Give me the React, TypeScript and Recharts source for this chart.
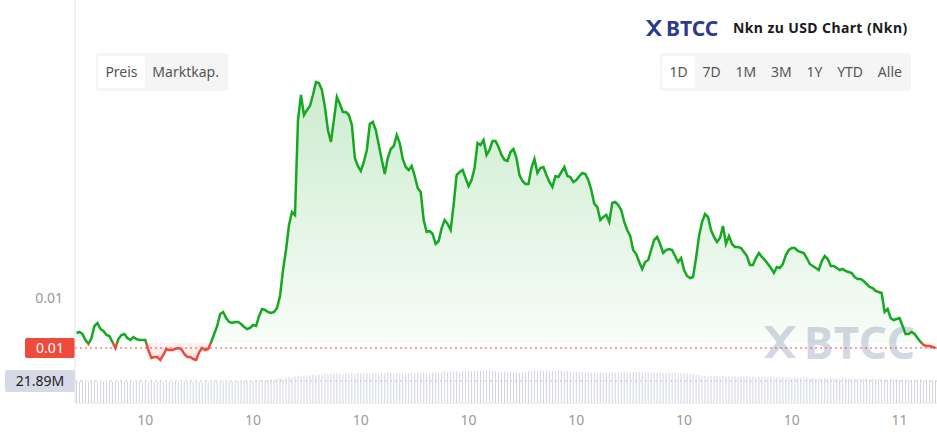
import { ComposedChart, Area, Bar, XAxis, YAxis, ReferenceLine } from 'recharts';

// 5-minute candles, day 10 01:05 -> day 11 01:00
const startDay = 10;
const startMinute = 65;
const stepMinutes = 5;

// NKN/USD close price
const prices = [
  0.01015, 0.01016, 0.01014, 0.01008, 0.01004, 0.01010, 0.01022, 0.01025, 0.01019, 0.01017, 0.01013, 0.01012,
  0.01006, 0.01000, 0.01009, 0.01013, 0.01014, 0.01010, 0.01008, 0.01011, 0.01009, 0.01008, 0.01008, 0.01008,
  0.00998, 0.00990, 0.00991, 0.00991, 0.00988, 0.00993, 0.00999, 0.00998, 0.00998, 0.00999, 0.01000, 0.00999,
  0.00994, 0.00991, 0.00991, 0.00989, 0.00988, 0.00996, 0.01000, 0.00998, 0.00999, 0.01006, 0.01014, 0.01022,
  0.01034, 0.01036, 0.01030, 0.01026, 0.01025, 0.01026, 0.01026, 0.01024, 0.01021, 0.01019, 0.01020, 0.01023,
  0.01022, 0.01032, 0.01039, 0.01038, 0.01036, 0.01035, 0.01036, 0.01040, 0.01052, 0.01078, 0.01098, 0.01123,
  0.01136, 0.01133, 0.01228, 0.01253, 0.01233, 0.01238, 0.01242, 0.01253, 0.01266, 0.01265, 0.01258, 0.01241,
  0.01218, 0.01206, 0.01228, 0.01251, 0.01244, 0.01236, 0.01236, 0.01233, 0.01223, 0.01190, 0.01182, 0.01177,
  0.01186, 0.01198, 0.01224, 0.01226, 0.01218, 0.01203, 0.01188, 0.01174, 0.01190, 0.01199, 0.01202, 0.01213,
  0.01205, 0.01189, 0.01181, 0.01178, 0.01182, 0.01172, 0.01160, 0.01156, 0.01128, 0.01116, 0.01117, 0.01114,
  0.01104, 0.01107, 0.01120, 0.01128, 0.01124, 0.01118, 0.01143, 0.01173, 0.01176, 0.01178, 0.01170, 0.01162,
  0.01168, 0.01180, 0.01205, 0.01203, 0.01208, 0.01193, 0.01198, 0.01207, 0.01207, 0.01201, 0.01193, 0.01188,
  0.01187, 0.01196, 0.01199, 0.01190, 0.01173, 0.01167, 0.01164, 0.01164, 0.01180, 0.01189, 0.01175, 0.01180,
  0.01181, 0.01173, 0.01166, 0.01161, 0.01172, 0.01171, 0.01176, 0.01181, 0.01172, 0.01171, 0.01166, 0.01168,
  0.01172, 0.01175, 0.01174, 0.01168, 0.01158, 0.01144, 0.01141, 0.01128, 0.01131, 0.01133, 0.01126, 0.01145,
  0.01146, 0.01143, 0.01138, 0.01126, 0.01118, 0.01112, 0.01098, 0.01094, 0.01086, 0.01079, 0.01086, 0.01088,
  0.01098, 0.01108, 0.01111, 0.01104, 0.01095, 0.01098, 0.01099, 0.01098, 0.01092, 0.01086, 0.01090, 0.01078,
  0.01072, 0.01070, 0.01071, 0.01090, 0.01112, 0.01126, 0.01134, 0.01131, 0.01118, 0.01111, 0.01106, 0.01110,
  0.01122, 0.01104, 0.01112, 0.01104, 0.01101, 0.01101, 0.01100, 0.01096, 0.01092, 0.01083, 0.01083, 0.01090,
  0.01095, 0.01091, 0.01088, 0.01084, 0.01080, 0.01075, 0.01081, 0.01080, 0.01084, 0.01093, 0.01098, 0.01100,
  0.01100, 0.01097, 0.01096, 0.01095, 0.01090, 0.01084, 0.01082, 0.01080, 0.01078, 0.01087, 0.01092, 0.01089,
  0.01082, 0.01082, 0.01080, 0.01078, 0.01079, 0.01077, 0.01076, 0.01075, 0.01071, 0.01069, 0.01069, 0.01067,
  0.01064, 0.01061, 0.01060, 0.01057, 0.01056, 0.01055, 0.01036, 0.01039, 0.01030, 0.01028, 0.01029, 0.01030,
  0.01022, 0.01014, 0.01014, 0.01016, 0.01014, 0.01010, 0.01006, 0.01003, 0.01002, 0.01002, 0.01001, 0.01000,
];

// volume, millions
const volumes = [
  21.4, 20.8, 22.1, 21.0, 20.6, 21.8, 22.3, 21.2, 20.9, 21.5, 20.7, 21.9,
  21.1, 20.5, 21.6, 22.0, 20.8, 21.3, 21.7, 20.9, 21.2, 22.2, 20.6, 21.4,
  21.0, 21.8, 20.7, 21.3, 22.1, 20.9, 21.5, 21.1, 20.8, 21.9, 21.2, 20.6,
  21.7, 21.0, 22.0, 20.9, 21.4, 21.1, 20.7, 21.8, 21.3, 21.0, 22.2, 21.5,
  20.9, 21.6, 21.2, 22.0, 21.4, 20.8, 21.9, 21.3, 22.1, 21.7, 22.4, 21.9,
  22.6, 22.2, 23.0, 22.5, 23.3, 23.8, 23.2, 24.1, 24.6, 24.2, 25.3, 25.8,
  25.4, 26.3, 26.9, 26.5, 27.4, 27.0, 27.8, 28.3, 27.9, 28.6, 28.2, 29.0,
  28.5, 29.3, 28.8, 29.6, 29.1, 28.7, 29.5, 29.2, 29.8, 29.0, 29.6, 30.1,
  29.4, 29.9, 29.3, 30.2, 29.7, 29.2, 30.0, 29.5, 30.3, 29.8, 29.4, 30.1,
  29.6, 30.0, 29.3, 29.9, 30.4, 29.7, 30.2, 29.8, 30.5, 30.0, 29.6, 30.3,
  30.8, 30.2, 30.9, 31.3, 30.7, 31.5, 31.0, 31.7, 31.2, 31.9, 31.4, 32.0,
  31.6, 32.2, 31.8, 32.4, 31.9, 32.1, 31.5, 32.3, 31.7, 31.0, 30.6, 31.2,
  30.4, 30.9, 30.2, 30.7, 30.1, 30.6, 31.1, 31.8, 31.4, 32.2, 31.7, 32.4,
  32.0, 32.5, 31.8, 32.3, 31.9, 32.6, 32.1, 31.6, 32.2, 31.3, 30.8, 31.2,
  30.5, 30.9, 30.3, 30.7, 30.1, 30.6, 30.0, 30.4, 29.8, 30.3, 29.9, 30.5,
  30.1, 30.8, 30.4, 31.0, 30.6, 30.2, 30.9, 30.5, 31.1, 30.7, 30.3, 30.8,
  30.2, 30.6, 29.9, 30.4, 30.0, 29.6, 30.1, 29.7, 30.3, 29.8, 29.4, 29.9,
  29.5, 29.1, 28.6, 28.2, 27.8, 27.4, 27.0, 26.7, 27.1, 26.5, 26.9, 26.3,
  26.7, 26.2, 26.6, 26.0, 26.4, 25.9, 26.3, 25.8, 26.2, 25.7, 26.1, 25.6,
  26.0, 25.5, 25.9, 25.4, 25.8, 25.3, 25.7, 25.2, 25.6, 25.1, 25.5, 25.0,
  25.4, 24.9, 25.3, 24.8, 25.2, 24.7, 25.1, 24.6, 25.0, 24.5, 24.9, 24.4,
  24.8, 24.3, 24.7, 24.2, 24.6, 24.1, 24.5, 24.0, 24.4, 23.9, 24.3, 23.8,
  24.2, 23.7, 24.1, 23.6, 24.0, 23.5, 23.9, 23.4, 23.8, 23.3, 23.7, 23.2,
  23.6, 23.1, 23.5, 23.0, 23.4, 22.9, 23.3, 22.8, 23.2, 22.6, 22.3, 21.89,
];

const tickTimes = ['10 03:00', '10 06:00', '10 09:00', '10 12:00', '10 15:00', '10 18:00', '10 21:00', '11 00:00'];
const tickLabels = ['10', '10', '10', '10', '10', '10', '10', '11'];
const priceTicks = [0.0105];

const basePrice = 0.01005;
const lastPrice = 0.01;
const lastVolume = 21.89;

const rangeButtons = ['1D', '7D', '1M', '3M', '1Y', 'YTD', 'Alle'];
const modeButtons = ['Preis', 'Marktkap.'];

const GREEN = '#15a821';
const RED = '#ef4a3c';

const pad = (n: number) => String(n).padStart(2, '0');

const data = prices.map((price, i) => {
  const m = startMinute + i * stepMinutes;
  const day = startDay + Math.floor(m / 1440);
  const mm = m % 1440;
  return { t: `${day} ${pad(Math.floor(mm / 60))}:${pad(mm % 60)}`, price, vol: volumes[i] };
});

const maxP = Math.max(...prices);
const minP = Math.min(...prices);
const splitOffset = (maxP - basePrice) / (maxP - minP);

const PriceBadge = (props: any) => {
  const { x, y } = props.viewBox;
  return (
    <g>
      <rect x={x - 50} y={y - 10} width={50} height={20} rx={2} fill={RED} />
      <text x={x - 25} y={y} dy="0.35em" textAnchor="middle" fill="#fff" fontSize={14}>
        {props.text}
      </text>
    </g>
  );
};

const VolumeBadge = (props: any) => {
  const { x, y } = props.viewBox;
  return (
    <g>
      <rect x={x - 70} y={y - 11} width={70} height={22} rx={2} fill="#d5dae6" />
      <text x={x - 35} y={y} dy="0.35em" textAnchor="middle" fill="#222" fontSize={14}>
        {props.text}
      </text>
    </g>
  );
};

const Logo = ({ size, color }: { size: number; color: string }) => (
  <svg width={size} height={size} viewBox="0 0 18 18">
    <polygon points="1,1 5,1 9,6 13,1 17,1 9,11" fill={color} />
    <polygon points="1,17 5,17 9,12 13,17 17,17 9,7" fill={color} />
  </svg>
);

const ButtonGroup = ({ items, left, top }: { items: string[]; left: number; top: number }) => (
  <div
    style={{
      position: 'absolute',
      left,
      top,
      height: 38,
      boxSizing: 'border-box',
      padding: '3px 2px',
      background: '#f5f5f5',
      borderRadius: 4,
      display: 'flex',
    }}
  >
    {items.map((label, i) => (
      <div
        key={label}
        style={{
          height: 32,
          lineHeight: '32px',
          padding: '0 7.4px',
          fontSize: 14,
          color: '#555',
          background: i === 0 ? '#fff' : 'transparent',
          borderRadius: 3,
        }}
      >
        {label}
      </div>
    ))}
  </div>
);

export default function App() {
  return (
    <div
      style={{
        position: 'absolute',
        left: 0,
        top: 0,
        width: 937,
        height: 437,
        background: '#fff',
        overflow: 'hidden',
        fontFamily: '"Noto Sans", sans-serif',
      }}
    >
      {/* watermark sits behind the plot */}
      <div style={{ position: 'absolute', left: 762, top: 312, display: 'flex', alignItems: 'center', gap: 6 }}>
        <Logo size={36} color="#d3d8e4" />
        <span style={{ fontSize: 44, fontWeight: 700, color: '#d3d8e4', letterSpacing: 0.5 }}>BTCC</span>
      </div>

      <div style={{ position: 'absolute', left: 0, top: 0 }}>
        <ComposedChart width={937} height={437} data={data} margin={{ top: 0, right: 0, bottom: 0, left: 0 }}>
          <defs>
            <linearGradient id="lineSplit" x1="0" y1="0" x2="0" y2="1">
              <stop offset={splitOffset} stopColor={GREEN} />
              <stop offset={splitOffset} stopColor={RED} />
            </linearGradient>
            <linearGradient id="fillSplit" x1="0" y1="0" x2="0" y2="1">
              <stop offset={0} stopColor={GREEN} stopOpacity={0.22} />
              <stop offset={splitOffset} stopColor={GREEN} stopOpacity={0.03} />
              <stop offset={splitOffset} stopColor={RED} stopOpacity={0.07} />
              <stop offset={1} stopColor={RED} stopOpacity={0.14} />
            </linearGradient>
          </defs>
          <XAxis
            dataKey="t"
            ticks={tickTimes}
            interval={0}
            tickFormatter={(v) => tickLabels[tickTimes.indexOf(v)]}
            height={34}
            tickLine={false}
            tickSize={6}
            tickMargin={6}
            axisLine={{ stroke: '#e6e8ee' }}
            tick={{ fontSize: 14, fill: '#9a9a9a' }}
          />
          <YAxis
            yAxisId="price"
            width={75}
            domain={[0.00945, 0.01348]}
            ticks={priceTicks}
            tickFormatter={(v) => v.toFixed(2)}
            tickLine={false}
            tickSize={6}
            tickMargin={6}
            axisLine={{ stroke: '#e3e3e3' }}
            tick={{ fontSize: 14, fill: '#9a9a9a' }}
          />
          <YAxis yAxisId="vol" hide domain={[0, 401]} />
          <Bar yAxisId="vol" dataKey="vol" fill="#d2d5e0" barSize={1} isAnimationActive={false} />
          <ReferenceLine
            yAxisId="vol"
            y={lastVolume}
            stroke="#c3c8d4"
            strokeDasharray="2 3"
            label={<VolumeBadge text={`${lastVolume.toFixed(2)}M`} />}
          />
          <Area
            yAxisId="price"
            type="linear"
            dataKey="price"
            baseValue={basePrice}
            stroke="url(#lineSplit)"
            strokeWidth={2.5}
            fill="url(#fillSplit)"
            fillOpacity={1}
            dot={false}
            activeDot={false}
            isAnimationActive={false}
          />
          <ReferenceLine
            yAxisId="price"
            y={lastPrice}
            stroke={RED}
            strokeDasharray="2 3"
            label={<PriceBadge text={lastPrice.toFixed(2)} />}
          />
        </ComposedChart>
      </div>

      <div style={{ position: 'absolute', left: 645, top: 16, display: 'flex', alignItems: 'center', gap: 3 }}>
        <Logo size={18} color="#2d3a8e" />
        <span style={{ fontSize: 21, fontWeight: 700, color: '#2d3a8e', lineHeight: '24px' }}>BTCC</span>
      </div>
      <div
        style={{
          position: 'absolute',
          left: 733,
          top: 18,
          fontSize: 14,
          fontWeight: 700,
          color: '#1b1b1b',
          lineHeight: '20px',
          letterSpacing: 0.4,
        }}
      >
        Nkn zu USD Chart (Nkn)
      </div>

      <ButtonGroup items={modeButtons} left={96} top={53} />
      <ButtonGroup items={rangeButtons} left={660} top={53} />
    </div>
  );
}
